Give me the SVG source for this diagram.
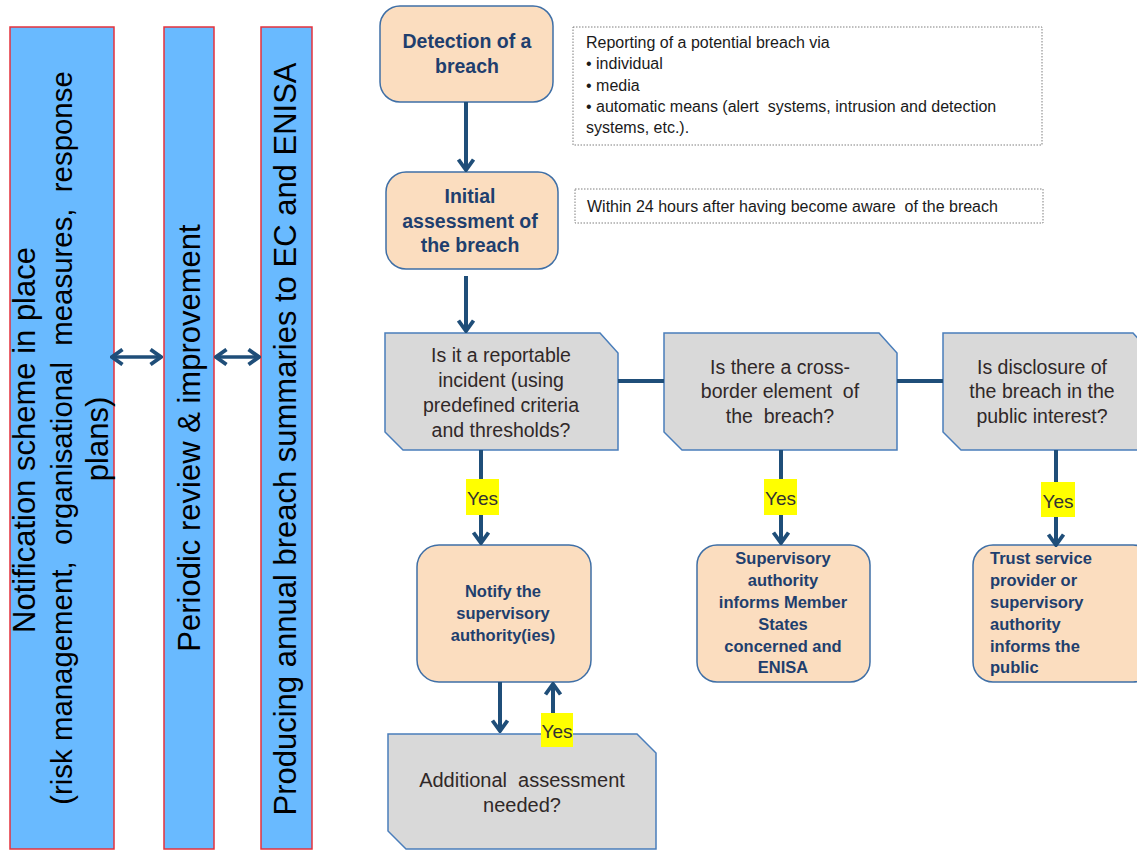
<svg xmlns="http://www.w3.org/2000/svg" width="1137" height="851" viewBox="0 0 1137 851">
  <style>
    .bar { fill: #69BAFF; stroke: #E5323C; stroke-width: 1.5; }
    .bartxt { font-family: "Liberation Sans", Arial, sans-serif; font-size: 31px; fill: #000; text-anchor: middle; }
    .step { fill: #FBDDBF; stroke: #3F6FA6; stroke-width: 1.5; }
    .steptxt { font-family: "Liberation Sans", Arial, sans-serif; font-weight: bold; fill: #1F3F6E; text-anchor: middle; }
    .dec { fill: #D9D9D9; stroke: #4A7EBB; stroke-width: 1.5; }
    .dectxt { font-family: "Liberation Sans", Arial, sans-serif; font-size: 19.5px; fill: #302828; text-anchor: middle; }
    .note { fill: #FFFFFF; stroke: #7F7F7F; stroke-width: 1; stroke-dasharray: 1.5 1.5; }
    .notetxt { font-family: "Liberation Sans", Arial, sans-serif; font-size: 16px; fill: #1A1A1A; }
    .conn { fill: none; stroke: #1F4E79; stroke-width: 4; }
    .link { fill: none; stroke: #1F4E79; stroke-width: 3.5; }
    .yesbg { fill: #FFFF00; }
    .yestxt { font-family: "Liberation Sans", Arial, sans-serif; font-size: 19px; fill: #333; text-anchor: middle; }
  </style>
  <defs>
    <marker id="arr" markerUnits="userSpaceOnUse" viewBox="0 0 14 18" refX="12" refY="9" markerWidth="14" markerHeight="18" orient="auto-start-reverse">
      <path d="M1.5,1.5 L12,9 L1.5,16.5" fill="none" stroke="#1F4E79" stroke-width="3.8" stroke-linejoin="miter"/>
    </marker>
  </defs>

  <!-- Left-hand process bars -->
  <g id="bar-notification">
    <rect class="bar" x="10" y="27" width="104" height="822"/>
    <text class="bartxt" transform="translate(35,440) rotate(-90)">Notification scheme in place</text>
    <text class="bartxt" style="font-size:29.4px" transform="translate(72,438) rotate(-90)" xml:space="preserve">(risk management,  organisational  measures,  response</text>
    <text class="bartxt" transform="translate(108,439) rotate(-90)">plans)</text>
  </g>
  <g id="bar-review">
    <rect class="bar" x="164" y="27" width="50" height="822"/>
    <text class="bartxt" transform="translate(200,438) rotate(-90)">Periodic review &amp; improvement</text>
  </g>
  <g id="bar-summaries">
    <rect class="bar" x="261" y="27" width="51" height="822"/>
    <text class="bartxt" transform="translate(296,439) rotate(-90)">Producing annual breach summaries to EC and ENISA</text>
  </g>

  <!-- Flow steps -->
  <g id="detection">
    <rect class="step" x="380" y="6" width="173" height="96" rx="20"/>
    <text class="steptxt" font-size="19.5" x="467" y="48">Detection of a</text>
    <text class="steptxt" font-size="19.5" x="467" y="73">breach</text>
  </g>
  <g id="reporting-note">
    <rect class="note" x="573" y="27" width="469" height="118"/>
    <text class="notetxt" xml:space="preserve">
      <tspan x="586" y="48">Reporting of a potential breach via</tspan>
      <tspan x="586" y="69">• individual</tspan>
      <tspan x="586" y="91">• media</tspan>
      <tspan x="586" y="112">• automatic means (alert  systems, intrusion and detection</tspan>
      <tspan x="586" y="133">systems, etc.).</tspan>
    </text>
  </g>
  <g id="initial-assessment">
    <rect class="step" x="386" y="172" width="172" height="97" rx="20"/>
    <text class="steptxt" font-size="19.5" x="470" y="203">Initial</text>
    <text class="steptxt" font-size="19.5" x="470" y="228">assessment of</text>
    <text class="steptxt" font-size="19.5" x="470" y="252">the breach</text>
  </g>
  <g id="timing-note">
    <rect class="note" x="575" y="189" width="468" height="34"/>
    <text class="notetxt" x="587" y="212" xml:space="preserve">Within 24 hours after having become aware  of the breach</text>
  </g>

  <!-- Decisions -->
  <g id="q-reportable">
    <polygon class="dec" points="385,333 600,333 618,353 618,450 403,450 385,432"/>
    <text class="dectxt" x="501" y="362">Is it a reportable</text>
    <text class="dectxt" x="501" y="387">incident (using</text>
    <text class="dectxt" x="501" y="412">predefined criteria</text>
    <text class="dectxt" x="501" y="437">and thresholds?</text>
  </g>
  <g id="q-crossborder">
    <polygon class="dec" points="664,333 879,333 897,353 897,450 682,450 664,432"/>
    <text class="dectxt" x="780" y="374">Is there a cross-</text>
    <text class="dectxt" x="780" y="398" xml:space="preserve">border element  of</text>
    <text class="dectxt" x="780" y="423" xml:space="preserve">the  breach?</text>
  </g>
  <g id="q-public">
    <polygon class="dec" points="943,333 1133,333 1151,353 1151,450 961,450 943,432"/>
    <text class="dectxt" x="1042" y="374">Is disclosure of</text>
    <text class="dectxt" x="1042" y="398">the breach in the</text>
    <text class="dectxt" x="1042" y="423">public interest?</text>
  </g>

  <!-- Outcomes -->
  <g id="notify-authority">
    <rect class="step" x="417" y="545" width="174" height="137" rx="22"/>
    <text class="steptxt" font-size="16.5" x="503" y="597">Notify the</text>
    <text class="steptxt" font-size="16.5" x="503" y="619">supervisory</text>
    <text class="steptxt" font-size="16.5" x="503" y="641">authority(ies)</text>
  </g>
  <g id="inform-member-states">
    <rect class="step" x="697" y="545" width="173" height="137" rx="20"/>
    <text class="steptxt" font-size="16.5" x="783" y="564">Supervisory</text>
    <text class="steptxt" font-size="16.5" x="783" y="586">authority</text>
    <text class="steptxt" font-size="16.5" x="783" y="608">informs Member</text>
    <text class="steptxt" font-size="16.5" x="783" y="630">States</text>
    <text class="steptxt" font-size="16.5" x="783" y="652">concerned and</text>
    <text class="steptxt" font-size="16.5" x="783" y="673">ENISA</text>
  </g>
  <g id="inform-public">
    <rect class="step" x="973" y="545" width="180" height="137" rx="20"/>
    <g class="steptxt" font-size="16.5" style="text-anchor:start">
      <text x="990" y="564">Trust service</text>
      <text x="990" y="586">provider or</text>
      <text x="990" y="608">supervisory</text>
      <text x="990" y="630">authority</text>
      <text x="990" y="652">informs the</text>
      <text x="990" y="673">public</text>
    </g>
  </g>
  <g id="q-additional">
    <polygon class="dec" points="388,734 637,734 656,753 656,849 406,849 388,831"/>
    <text class="dectxt" style="font-size:20px" x="522" y="787" xml:space="preserve">Additional  assessment</text>
    <text class="dectxt" style="font-size:20px" x="522" y="812">needed?</text>
  </g>

  <!-- Connectors -->
  <g id="connectors">
    <line class="link" x1="112" y1="357" x2="161" y2="357" marker-start="url(#arr)" marker-end="url(#arr)"/>
    <line class="link" x1="216" y1="357" x2="259" y2="357" marker-start="url(#arr)" marker-end="url(#arr)"/>

    <line class="conn" x1="466" y1="102" x2="466" y2="170" marker-end="url(#arr)"/>
    <line class="conn" x1="466" y1="276" x2="466" y2="331" marker-end="url(#arr)"/>
    <line class="conn" x1="618" y1="381" x2="664" y2="381"/>
    <line class="conn" x1="897" y1="381" x2="943" y2="381"/>

    <line class="conn" x1="481" y1="450" x2="481" y2="543" marker-end="url(#arr)"/>
    <line class="conn" x1="781" y1="450" x2="781" y2="543" marker-end="url(#arr)"/>
    <line class="conn" x1="1056" y1="450" x2="1056" y2="545" marker-end="url(#arr)"/>
    <line class="conn" x1="500" y1="682" x2="500" y2="731" marker-end="url(#arr)"/>
    <line class="conn" x1="553" y1="734" x2="553" y2="684" marker-end="url(#arr)"/>

    <rect class="yesbg" x="466" y="479" width="33" height="36"/>
    <text class="yestxt" x="482.5" y="505">Yes</text>
    <rect class="yesbg" x="764" y="479" width="33" height="36"/>
    <text class="yestxt" x="780.5" y="505">Yes</text>
    <rect class="yesbg" x="1041" y="482" width="34" height="35"/>
    <text class="yestxt" x="1058" y="508">Yes</text>
    <rect class="yesbg" x="541" y="713" width="32" height="34"/>
    <text class="yestxt" x="557" y="738">Yes</text>
  </g>
</svg>
